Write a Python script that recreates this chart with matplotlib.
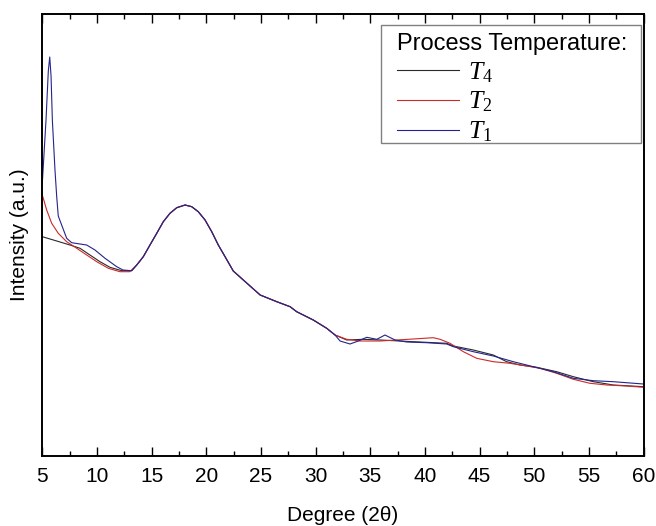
import matplotlib
matplotlib.use("Agg")
import matplotlib.pyplot as plt
from matplotlib.patches import Rectangle
from matplotlib.ticker import MultipleLocator, NullLocator

plt.rcParams['font.family'] = ['Liberation Sans', 'DejaVu Sans']
plt.rcParams['mathtext.fontset'] = 'custom'
plt.rcParams['mathtext.it'] = 'Liberation Serif:italic'
plt.rcParams['mathtext.rm'] = 'Liberation Serif'

# ---- data (arbitrary intensity units) ----
common_x = [13.64, 14.24, 14.85, 15.47, 16.07, 16.68, 17.3, 18.06, 18.67, 19.27,
            19.89, 20.5, 21.1, 21.72, 22.47, 23.39, 24.93, 26.45, 27.67, 28.27,
            29.79, 31.02, 31.78]
common_y = [191, 199.3, 211, 222.7, 234.3, 242.7, 248.3, 251, 249.3, 244.3,
            236, 224.3, 211, 199.3, 185, 176, 161, 154.3, 149.3, 144.3,
            136, 127.7, 121]

t1_x_start = [5.0, 5.34, 5.55, 5.68, 5.8, 5.92, 6.16, 6.32, 6.46, 6.77, 7.23,
              7.69, 8.45, 9.06, 9.82, 10.74, 11.81, 12.38, 13.18]
t1_y_start = [273, 336, 385, 399, 380, 336, 286, 259, 240, 231, 217.7,
              213.3, 212, 211, 206, 197.7, 189.3, 186, 185.3]
t1_x_end = [32.24, 33.15, 33.91, 34.68, 35.6, 36.35, 37.27, 38.34, 40.17, 42.0,
            42.6, 44.43, 46.26, 48.09, 49.92, 51.75, 53.58, 55.41, 57.24, 60.0]
t1_y_end = [115, 112, 115, 118.7, 116.7, 121, 116, 114, 113.3, 112,
            109.3, 104.3, 100, 94.3, 89.3, 84.3, 77.7, 75.3, 74.3, 72]

t2_x_start = [5.0, 5.09, 5.4, 5.86, 6.46, 7.23, 8.15, 9.06, 9.98, 11.04, 12.1,
              13.0]
t2_y_start = [261, 257.7, 246, 232.7, 222.7, 214.3, 207.7, 201, 194.3, 187.7, 184.3,
              184.3]
t2_x_end = [32.85, 34.07, 35.9, 37.42, 38.94, 40.77, 41.39, 42.3, 43.52, 44.74,
            46.26, 47.78, 49.32, 50.53, 52.06, 53.58, 55.1, 56.64, 58.45, 60.0]
t2_y_end = [116.7, 115, 115, 116, 117, 118.3, 116.7, 112.7, 104.3, 97.7,
            94.3, 92.7, 90, 87.7, 82.7, 76.7, 72.7, 71, 70, 68.7]

t4_x_start = [5.0, 6.32, 7.53, 8.45, 9.36, 10.28, 11.19, 12.26, 13.18]
t4_y_start = [219.3, 215, 211, 207.7, 201, 194.3, 188.7, 185.3, 185.3]
t4_x_end = [32.85, 34.37, 35.9, 38.94, 42.0, 42.6, 44.43, 46.26, 47.48, 48.7,
            50.23, 52.06, 53.58, 55.41, 57.24, 60.0]
t4_y_end = [116, 116.7, 116, 114.3, 112.7, 110, 106, 101, 94.3, 91,
            88.7, 84.3, 79.3, 74.3, 71, 69.3]

labels = [r'$T_{\mathit{4}}$', r'$T_{\mathit{2}}$', r'$T_{\mathit{1}}$']
colors = ['#2a2a2a', '#cc2a2a', '#24248c']

fig = plt.figure(figsize=(6.56, 5.26), dpi=100)
ax = fig.add_axes([42.3 / 656, 1 - 456 / 526, 601.2 / 656, 442 / 526])

series = [
    (t4_x_start + common_x + t4_x_end, t4_y_start + common_y + t4_y_end),
    (t2_x_start + common_x + t2_x_end, t2_y_start + common_y + t2_y_end),
    (t1_x_start + common_x + t1_x_end, t1_y_start + common_y + t1_y_end),
]
for (xs, ys), lab, c in zip(series, labels, colors):
    ax.plot(xs, ys, color=c, lw=0.8, label=lab, solid_joinstyle='round')

ax.set_xlim(5, 60)
ax.set_ylim(0, 442)
ax.xaxis.set_major_locator(MultipleLocator(5))
ax.xaxis.set_minor_locator(MultipleLocator(2.5))
ax.yaxis.set_major_locator(NullLocator())
ax.yaxis.set_minor_locator(NullLocator())
ax.tick_params(axis='x', which='both', direction='in', top=True, bottom=True,
               labelsize=15, pad=8, width=1.0)
ax.tick_params(axis='x', which='major', length=6.5)
ax.tick_params(axis='x', which='minor', length=3.6)
for s in ax.spines.values():
    s.set_linewidth(1.4)

ax.set_xlabel('Degree (2θ)', fontsize=15, labelpad=14)
ax.set_ylabel('Intensity (a.u.)', fontsize=15)
ax.yaxis.set_label_coords(-0.022, 0.5)

# legend frame (layout box) and legend content
frame = Rectangle((381 / 656, 1 - 143 / 526), 260 / 656, 118 / 526,
                  transform=fig.transFigure, facecolor='white',
                  edgecolor='#808080', linewidth=1.0, zorder=4, clip_on=False)
ax.add_patch(frame)
leg = ax.legend(title='Process Temperature:', loc='upper left',
                bbox_to_anchor=(397 / 656, 1 - 33 / 526),
                bbox_transform=fig.transFigure, borderaxespad=0,
                frameon=False, fontsize=18.5, title_fontsize=17,
                alignment='left', handlelength=2.4, handletextpad=0.35,
                labelspacing=0.2, borderpad=0)
leg.set_zorder(6)

fig.savefig('out.png', dpi=100)
